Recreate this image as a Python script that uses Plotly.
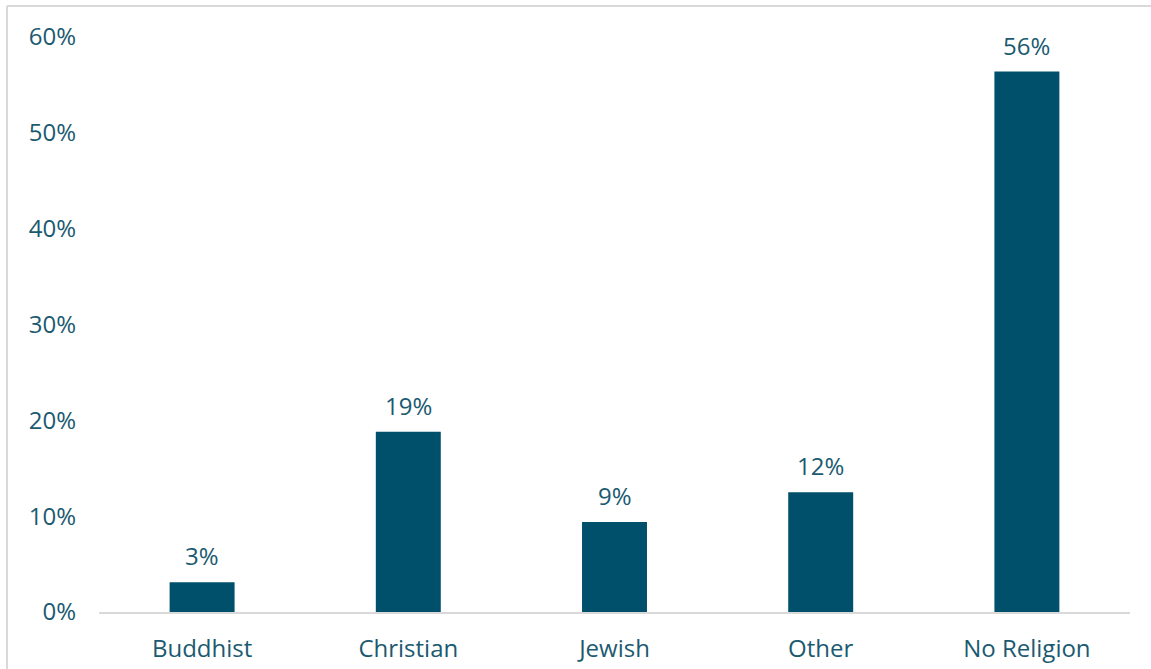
import plotly.graph_objects as go

categories = ["Buddhist", "Christian", "Jewish", "Other", "No Religion"]
values = [3.1, 18.8, 9.4, 12.5, 56.4]
labels = ["3%", "19%", "9%", "12%", "56%"]
y_ticks = [0, 10, 20, 30, 40, 50, 60]
y_tick_labels = ["0%", "10%", "20%", "30%", "40%", "50%", "60%"]

W, H = 1151, 669
L, R, T, B = 99, 21, 37, 57
pw, ph = W - L - R, H - T - B

text_color = "#1B5A70"
bar_color = "#00506B"
font_family = "'Open Sans', Lato, sans-serif"
fsize = 24

fig = go.Figure(go.Bar(
    x=categories, y=values,
    marker=dict(color=bar_color, line=dict(width=0)),
    cliponaxis=False, width=0.315, hoverinfo="x+y",
))

annotations = [
    dict(x=c, y=v, text=t, xref="x", yref="y", showarrow=False,
         yanchor="bottom", yshift=8,
         font=dict(size=fsize, color=text_color, family=font_family))
    for c, v, t in zip(categories, values, labels)
]

def px_x(px):
    return (px - L) / pw

def px_y(py):
    return (H - B - py) / ph

line = dict(color="#D9D9D9", width=2)
fig.update_layout(
    width=W, height=H,
    margin=dict(l=L, r=R, t=T, b=B, autoexpand=False),
    paper_bgcolor="white", plot_bgcolor="white",
    font=dict(family=font_family, color=text_color, size=fsize),
    showlegend=False,
    annotations=annotations,
    xaxis=dict(showline=True, linecolor="#D9D9D9", linewidth=2, ticks="",
               showgrid=False, ticklabelstandoff=14, automargin=False,
               tickfont=dict(size=fsize, color=text_color)),
    yaxis=dict(range=[0, 60], tickvals=y_ticks, ticktext=y_tick_labels,
               showgrid=False, zeroline=False, showline=False, ticks="",
               ticklabelstandoff=22, automargin=False,
               tickfont=dict(size=fsize, color=text_color)),
    shapes=[
        dict(type="line", xref="paper", yref="paper", x0=px_x(7), x1=px_x(7),
             y0=px_y(6), y1=px_y(680), line=line),
        dict(type="line", xref="paper", yref="paper", x0=px_x(7), x1=px_x(1160),
             y0=px_y(6), y1=px_y(6), line=line),
    ],
)

fig.write_html("out.html")
